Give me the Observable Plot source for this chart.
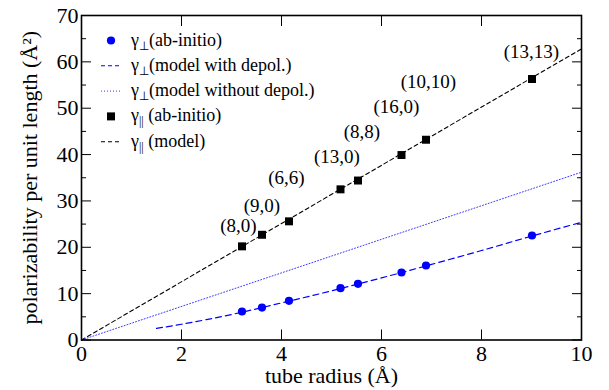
<!DOCTYPE html>
<html><head><meta charset="utf-8">
<script src="https://cdn.jsdelivr.net/npm/d3@7"></script>
<script src="https://cdn.jsdelivr.net/npm/@observablehq/plot@0.6"></script>
<style>body{margin:0;background:#fff;} #chart svg, #chart svg text{font-family:'Liberation Serif','Times New Roman',serif !important;}</style>
</head><body><div id="chart"></div>
<script>
// ab-initio data: tube chirality, radius (Å), polarizabilities (Å^2)
const tubes = ["(8,0)","(9,0)","(6,6)","(13,0)","(8,8)","(16,0)","(10,10)","(13,13)"];
const radius = [3.21, 3.61, 4.15, 5.18, 5.53, 6.40, 6.89, 9.01];
const gammaPar = [20.2, 22.7, 25.6, 32.5, 34.4, 39.9, 43.2, 56.3];
const gammaPerp = [6.15, 7.0, 8.46, 11.17, 12.12, 14.56, 16.07, 22.54];

// annotation anchors for the chirality labels (data units)
const labelR = [3.14, 3.61, 4.10, 5.11, 5.61, 6.30, 6.94, 9.00];
const labelG = [24.7, 28.9, 34.9, 39.5, 44.9, 50.3, 55.6, 62.1];

// model curves
const modelR = [0, 10];
const parModel = [0, 62.8];
const perpNoDepol = [0, 36.2];
const depolR = [1.5, 2, 2.5, 3, 4, 5, 6, 7, 8, 9, 10];
const perpDepol = [2.5, 3.4, 4.4, 5.5, 8.0, 10.6, 13.4, 16.3, 19.3, 22.4, 25.4];

// axis ticks
const xTicks = [0, 2, 4, 6, 8, 10];
const yTicks = [0, 10, 20, 30, 40, 50, 60, 70];
const yMinor = [5, 15, 25, 35, 45, 55, 65];

const points = tubes.map((t, i) => ({t, r: radius[i], par: gammaPar[i], perp: gammaPerp[i], lr: labelR[i], lg: labelG[i]}));
const parLine = modelR.map((r, i) => ({r, g: parModel[i]}));
const noDepolLine = modelR.map((r, i) => ({r, g: perpNoDepol[i]}));
const depolLine = depolR.map((r, i) => ({r, g: perpDepol[i]}));

const serif = "'Liberation Serif', 'Times New Roman', serif";
const blank = () => "";
const plot = Plot.plot({
  width: 609, height: 390,
  marginLeft: 81, marginRight: 28, marginTop: 15, marginBottom: 50.5,
  x: {domain: [0, 10], label: null},
  y: {domain: [0, 70], label: null},
  style: {fontFamily: serif, background: "white", color: "black"},
  marks: [
    Plot.line(parLine, {x: "r", y: "g", stroke: "black", strokeWidth: 1.1, strokeDasharray: "4,3"}),
    Plot.line(noDepolLine, {x: "r", y: "g", stroke: "#3a3aff", strokeWidth: 1, strokeDasharray: "1,2"}),
    Plot.line(depolLine, {x: "r", y: "g", stroke: "blue", strokeWidth: 1.2, strokeDasharray: "6,4", curve: "monotone-x"}),
    Plot.dot(points, {x: "r", y: "perp", r: 4.1, fill: "blue"}),
    Plot.dot(points, {x: "r", y: "par", r: 4.5, symbol: "square", fill: "black"}),
    Plot.text(points, {x: "lr", y: "lg", text: "t", fontSize: 19, lineAnchor: "middle", fill: "black"}),
    Plot.axisX({ticks: xTicks, anchor: "bottom", tickSize: -10, tickPadding: 15, fontSize: 22, label: null}),
    Plot.axisX({ticks: xTicks, anchor: "top", tickSize: -10, tickFormat: blank, label: null}),
    Plot.axisY({ticks: yTicks, anchor: "left", tickSize: -10, tickPadding: 13, fontSize: 22, label: null}),
    Plot.axisY({ticks: yMinor, anchor: "left", tickSize: -5, tickFormat: blank, label: null}),
    Plot.axisY({ticks: yTicks, anchor: "right", tickSize: -10, tickFormat: blank, label: null}),
    Plot.axisY({ticks: yMinor, anchor: "right", tickSize: -5, tickFormat: blank, label: null}),
    Plot.frame({stroke: "black", strokeWidth: 1.6}),
    Plot.text(["tube radius (Å)"], {text: d => d, frameAnchor: "bottom", dy: 36, lineAnchor: "middle", textAnchor: "middle", fontSize: 22}),
    Plot.text(["polarizability per unit length (Å²)"], {text: d => d, frameAnchor: "left", dx: -52, rotate: -90, lineAnchor: "middle", textAnchor: "middle", fontSize: 22})
  ]
});
document.getElementById("chart").append(plot);

// legend
const legend = [
  {sym: "circle", main: "γ", sub: "⊥", rest: "(ab-initio)"},
  {sym: "dash-blue", main: "γ", sub: "⊥", rest: "(model with depol.)"},
  {sym: "dot-blue", main: "γ", sub: "⊥", rest: "(model without depol.)"},
  {sym: "square", main: "γ", sub: "||", rest: " (ab-initio)"},
  {sym: "dash-black", main: "γ", sub: "||", rest: " (model)"}
];
const svg = d3.select(plot);
const g = svg.append("g").attr("font-family", serif).attr("font-size", 18).attr("text-anchor", "start");
legend.forEach((d, i) => {
  const y = 39.5 + 25.3 * i;
  const sy = y + 1;
  if (d.sym === "circle") g.append("circle").attr("cx", 111).attr("cy", sy).attr("r", 4.1).attr("fill", "blue");
  if (d.sym === "square") g.append("rect").attr("x", 107).attr("y", sy - 4).attr("width", 8).attr("height", 8).attr("fill", "black");
  if (d.sym.startsWith("dash") || d.sym.startsWith("dot")) {
    g.append("line").attr("x1", 101).attr("x2", 121).attr("y1", sy).attr("y2", sy)
      .attr("stroke", d.sym.endsWith("black") ? "black" : (d.sym.startsWith("dot") ? "#3a3aff" : "blue"))
      .attr("stroke-width", d.sym.startsWith("dot") ? 1 : 1.1)
      .attr("stroke-dasharray", d.sym.startsWith("dot") ? "1,2" : "4,3");
  }
  const t = g.append("text").attr("x", 131).attr("y", y).attr("dominant-baseline", "central").attr("text-anchor", "start").style("white-space", "pre");
  t.append("tspan").text(d.main);
  t.append("tspan").attr("dy", 6).attr("font-size", 12).text(d.sub);
  t.append("tspan").attr("dy", -6).attr("font-size", 18).text(d.rest);
});
</script>
</body></html>
